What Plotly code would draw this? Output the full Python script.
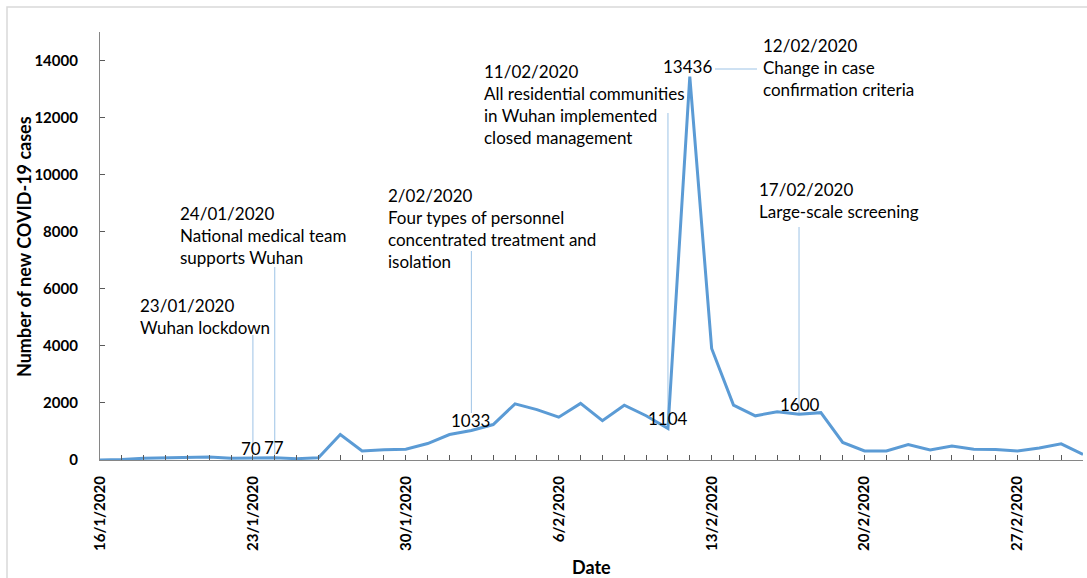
import plotly.graph_objects as go
import pandas as pd

# ---- data ----
dates = pd.date_range("2020-01-16", "2020-03-01", freq="D").strftime("%Y-%m-%d").tolist()
new_cases = [4, 17, 59, 77, 72, 105, 62, 70, 77, 46, 80, 892, 315, 356, 378, 576, 894,
             1033, 1242, 1967, 1766, 1501, 1985, 1379, 1920, 1552, 1104, 13436, 3910,
             1923, 1548, 1690, 1600, 1660, 615, 319, 314, 541, 348, 491, 374, 372, 313,
             420, 565, 193]

label_dates = ["2020-01-23", "2020-01-24", "2020-02-02", "2020-02-11", "2020-02-12", "2020-02-17"]
event_texts = [
    "23/01/2020<br>Wuhan lockdown",
    "24/01/2020<br>National medical team<br>supports Wuhan",
    "2/02/2020<br>Four types of personnel<br>concentrated treatment and<br>isolation",
    "11/02/2020<br>All residential communities<br>in Wuhan implemented<br>closed management",
    "12/02/2020<br>Change in case<br>confirmation criteria",
    "17/02/2020<br>Large-scale screening",
]
y_ticks = [0, 2000, 4000, 6000, 8000, 10000, 12000, 14000]
x_tick_dates = ["2020-01-16", "2020-01-23", "2020-01-30", "2020-02-06", "2020-02-13", "2020-02-20", "2020-02-27"]

value_of = dict(zip(dates, new_cases))

# ---- layout helpers (pixel geometry of the page) ----
L, R, T, B = 100, 1083, 32, 460
def px(x):
    return (x - L) / (R - L)
def py(y):
    return (B - y) / (B - T)
YMAX = 15000
def ydata(y):
    return (B - y) / (B - T) * YMAX

FONT = "Lato, 'Noto Sans', sans-serif"
TXT = "#000000"
LEAD = "#9dc3e6"

fig = go.Figure()
fig.add_trace(go.Scatter(x=dates, y=new_cases, mode="lines",
                         line=dict(color="#5b9bd5", width=3), hoverinfo="x+y",
                         showlegend=False, cliponaxis=True))

# event text blocks (left px, top px)
text_pos = [(138, 293), (178, 201), (386, 183), (482, 59), (761, 33), (757, 177)]
annotations = []
for txt, (lx, ty) in zip(event_texts, text_pos):
    annotations.append(dict(xref="paper", yref="paper", x=px(lx), y=py(ty), text=txt,
                            showarrow=False, xanchor="left", yanchor="top", align="left",
                            font=dict(family=FONT, size=17, color=TXT)))
# value labels (horizontal nudges in px)
label_xshift = [-2, -1, -1, 0, -2, 1]
for d, xs in zip(label_dates, label_xshift):
    annotations.append(dict(xref="x", yref="y", x=d, y=value_of[d], text=str(value_of[d]),
                            showarrow=False, xanchor="center", yanchor="middle", yshift=10, xshift=xs,
                            font=dict(family=FONT, size=17, color=TXT)))
# axis titles
annotations.append(dict(xref="paper", yref="paper", x=px(591), y=py(567), text="<b>Date</b>",
                        showarrow=False, xanchor="center", yanchor="middle",
                        font=dict(family=FONT, size=18, color=TXT)))
annotations.append(dict(xref="paper", yref="paper", x=px(24), y=py(247),
                        text="<b>Number of new COVID-19 cases</b>", textangle=-90,
                        showarrow=False, xanchor="center", yanchor="middle",
                        font=dict(family=FONT, size=18, color=TXT)))

# leader lines (top px, bottom px) for vertical ones
shapes = []
lead_vert = [("2020-01-23", 335, 455), ("2020-01-24", 267, 455), ("2020-02-02", 251, 413),
             ("2020-02-11", 113, None), ("2020-02-17", 227, 413)]
for d, top, bot in lead_vert:
    y1 = value_of[d] if bot is None else ydata(bot)
    shapes.append(dict(type="line", xref="x", yref="y", x0=d, x1=d, y0=ydata(top), y1=y1,
                       line=dict(color=LEAD, width=1), layer="below"))
shapes.append(dict(type="line", xref="paper", yref="y", x0=px(715), x1=px(757),
                   y0=ydata(69), y1=ydata(69), line=dict(color=LEAD, width=1)))
# outer chart border
shapes.append(dict(type="rect", xref="paper", yref="paper", x0=px(7), x1=px(1120),
                   y0=py(600), y1=py(7), line=dict(color="#d9d9d9", width=1.5),
                   fillcolor="rgba(0,0,0,0)", layer="below"))

fig.update_layout(
    width=1087, height=578,
    margin=dict(l=L, r=1087 - R, t=T, b=578 - B, autoexpand=False),
    paper_bgcolor="white", plot_bgcolor="white",
    font=dict(family=FONT, color=TXT),
    annotations=annotations, shapes=shapes,
    showlegend=False,
)
fig.update_xaxes(
    type="date", range=["2020-01-16", "2020-03-01"],
    tickvals=x_tick_dates, tickformat="%-d/%-m/%Y", tickangle=-90,
    ticks="inside", ticklen=5, tickcolor="#595959",
    minor=dict(dtick=86400000, tick0="2020-01-16", ticks="inside", ticklen=5, tickcolor="#595959"),
    showline=True, linecolor="#868686", linewidth=1.2, showgrid=False, zeroline=False,
    tickfont=dict(family=FONT, size=15, color=TXT, weight="bold"),
    ticklabelstandoff=9, automargin=False,
)
fig.update_yaxes(
    range=[0, YMAX], tickvals=y_ticks, tickformat="d",
    ticks="inside", ticklen=5, tickcolor="#595959",
    showline=True, linecolor="#868686", linewidth=1.2, showgrid=False, zeroline=False,
    tickfont=dict(family=FONT, size=15, color=TXT, weight="bold"),
    ticklabelstandoff=18, automargin=False,
)

fig.write_html("out.html", config={"displayModeBar": False},
               post_script="document.body.style.margin='0';document.body.style.overflow='hidden';")
